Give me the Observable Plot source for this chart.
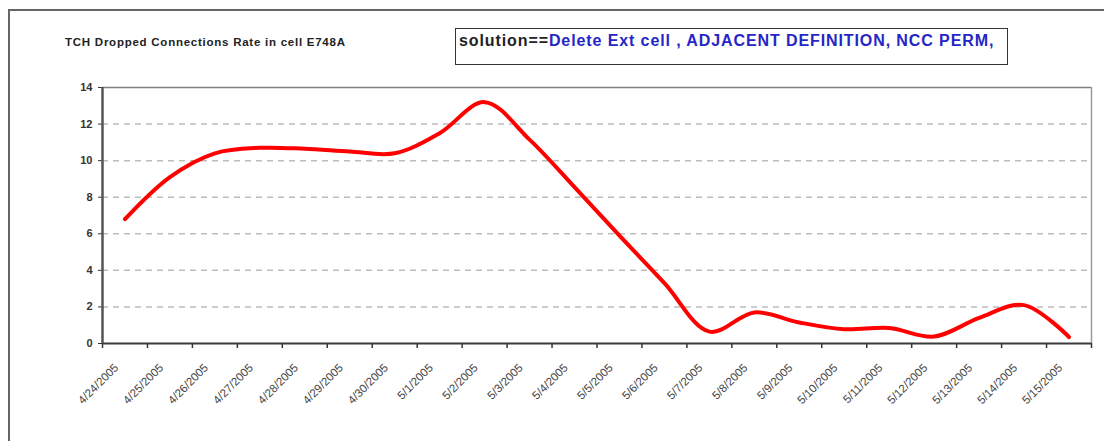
<!DOCTYPE html>
<html>
<head>
<meta charset="utf-8">
<script src="https://cdn.jsdelivr.net/npm/d3@7"></script>
<script src="https://cdn.jsdelivr.net/npm/@observablehq/plot@0.6"></script>
<style>
  body { margin: 0; background: #fff; }
  #wrap { position: relative; width: 1104px; height: 441px; overflow: hidden; font-family: "Liberation Sans", Arial, sans-serif; background: #fff; }
  #frame { position: absolute; left: 8px; top: 9px; width: 1130px; height: 470px; border: 2px solid #666; box-sizing: border-box; }
  #title { position: absolute; left: 65px; top: 36px; font-size: 11.5px; letter-spacing: 0.75px; font-weight: bold; color: #222; white-space: nowrap; }
  #note { position: absolute; left: 455px; top: 28px; width: 553px; height: 37px; border: 1.5px solid #333; box-sizing: border-box; font-size: 16px; letter-spacing: 0.9px; font-weight: bold; padding: 3px 0 0 3px; white-space: nowrap; color: #222; }
  #note .b { color: #2626c8; }
  #chart { position: absolute; left: 0; top: 0; }
</style>
</head>
<body>
<div id="wrap">
  <div id="frame"></div>
  <div id="chart"></div>
  <div id="title"></div>
  <div id="note"></div>
</div>
<script>
const chartTitle = "TCH Dropped Connections Rate in cell E748A";
const notePrefix = "solution==";
const noteText = "Delete Ext cell , ADJACENT DEFINITION, NCC PERM,";

const dates = ["4/24/2005","4/25/2005","4/26/2005","4/27/2005","4/28/2005","4/29/2005","4/30/2005",
  "5/1/2005","5/2/2005","5/3/2005","5/4/2005","5/5/2005","5/6/2005","5/7/2005","5/8/2005","5/9/2005",
  "5/10/2005","5/11/2005","5/12/2005","5/13/2005","5/14/2005","5/15/2005"];
const rates = [6.8, 9.1, 10.4, 10.7, 10.65, 10.5, 10.4, 11.5, 13.2, 11.15, 8.55, 5.9, 3.3, 0.65,
  1.7, 1.15, 0.78, 0.85, 0.38, 1.4, 2.1, 0.35];
const yTicks = [0, 2, 4, 6, 8, 10, 12, 14];
const gridLines = [2, 4, 6, 8, 10, 12];

document.getElementById("title").textContent = chartTitle;
const note = document.getElementById("note");
note.appendChild(document.createTextNode(notePrefix));
const sp = document.createElement("span"); sp.className = "b"; sp.textContent = noteText;
note.appendChild(sp);

const data = dates.map((d, i) => ({date: d, pos: i + 0.5, rate: rates[i]}));
const bounds = d3.range(dates.length + 1);
const yMax = yTicks[yTicks.length - 1];

const chart = Plot.plot({
  width: 1104,
  height: 441,
  marginLeft: 102,
  marginRight: 13,
  marginTop: 87,
  marginBottom: 98,
  style: {fontFamily: "Liberation Sans, Arial, sans-serif", background: "transparent"},
  x: {domain: [0, dates.length], axis: null},
  y: {domain: [0, yMax], axis: null},
  marks: [
    Plot.ruleY(gridLines, {stroke: "#bcbcbc", strokeWidth: 1.5, strokeDasharray: "6,5"}),
    Plot.ruleY([yMax], {stroke: "#808080", strokeWidth: 1.5}),
    Plot.ruleX([dates.length], {stroke: "#9a9a9a", strokeWidth: 1.5}),
    Plot.lineY(data, {x: "pos", y: "rate", stroke: "#ff0000", strokeWidth: 4, curve: "catmull-rom"}),
    Plot.axisX({ticks: bounds, tickFormat: () => "", tickSize: 5, label: null, stroke: "#333", strokeWidth: 1.5}),
    Plot.axisY({ticks: yTicks, tickSize: 4, tickPadding: 6, label: null, fontSize: 11, fontWeight: "bold", color: "#333"}),
    Plot.ruleY([0], {stroke: "#3a3a3a", strokeWidth: 2}),
    Plot.ruleX([0], {stroke: "#555", strokeWidth: 2.5}),
    Plot.text(data, {x: "pos", frameAnchor: "bottom", text: "date", rotate: -45, textAnchor: "end",
      dx: -6, dy: 25, fontSize: 11.5, fill: "#444"})
  ]
});
document.getElementById("chart").appendChild(chart);
</script>
</body>
</html>
